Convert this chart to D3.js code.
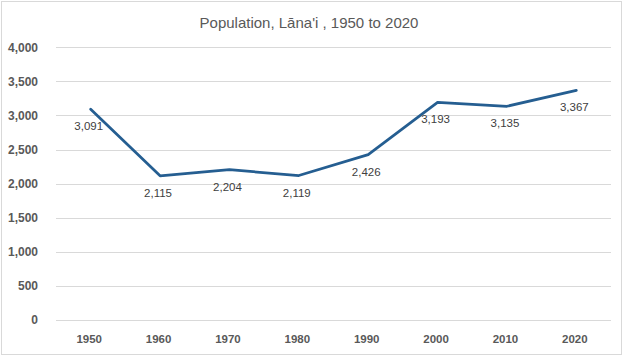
<!DOCTYPE html>
<html><head><meta charset="utf-8">
<script src="https://cdn.jsdelivr.net/npm/d3@7"></script>
<style>body{margin:0;background:#fff;}svg{display:block;font-family:"Liberation Sans",Arial,sans-serif;}</style>
</head><body>
<script>
const years = ["1950","1960","1970","1980","1990","2000","2010","2020"];
const population = [3091, 2115, 2204, 2119, 2426, 3193, 3135, 3367];
const yTicks = [0, 500, 1000, 1500, 2000, 2500, 3000, 3500, 4000];
const title = "Population, Lāna'i , 1950 to 2020";

const W = 624, H = 356;
const svg = d3.select("body").append("svg").attr("width", W).attr("height", H);
svg.append("rect").attr("x", 1.5).attr("y", 1.5).attr("width", 620).attr("height", 353)
  .attr("fill", "#fff").attr("stroke", "#d9d9d9");

const x = d3.scaleBand().domain(years).range([56, 611]);
const y = d3.scaleLinear().domain([0, 4000]).range([320, 47.3]);

svg.append("g").selectAll("line").data(yTicks).join("line")
  .attr("x1", 56).attr("x2", 611)
  .attr("y1", d => Math.round(y(d)) + 0.5).attr("y2", d => Math.round(y(d)) + 0.5)
  .attr("stroke", "#d9d9d9").attr("stroke-width", 1);

const fmt = d3.format(",");
svg.append("g").selectAll("text").data(yTicks).join("text")
  .attr("x", 38).attr("y", d => y(d)).attr("dy", "0.35em")
  .attr("text-anchor", "end").attr("font-size", 12).attr("font-weight", "bold")
  .attr("fill", "#595959").text(d => fmt(d));

svg.append("g").selectAll("text").data(years).join("text")
  .attr("x", d => x(d) + x.bandwidth() / 2 - 1.5).attr("y", 339).attr("dy", "0.35em")
  .attr("text-anchor", "middle").attr("font-size", 11.5).attr("font-weight", "bold")
  .attr("fill", "#595959").text(d => d);

const line = d3.line().x((d, i) => x(years[i]) + x.bandwidth() / 2).y(d => y(d));
svg.append("path").datum(population).attr("d", line)
  .attr("fill", "none").attr("stroke", "#255e91").attr("stroke-width", 2.75)
  .attr("stroke-linejoin", "round").attr("stroke-linecap", "round");

svg.append("g").selectAll("text").data(population).join("text")
  .attr("x", (d, i) => x(years[i]) + x.bandwidth() / 2 - 2)
  .attr("y", d => y(d) + 17).attr("dy", "0.35em")
  .attr("text-anchor", "middle").attr("font-size", 11.5)
  .attr("fill", "#404040").text(d => fmt(d));

svg.append("text").attr("x", 309).attr("y", 23).attr("dy", "0.35em")
  .attr("text-anchor", "middle").attr("font-size", 15).attr("fill", "#595959")
  .text(title);
</script>
</body></html>
